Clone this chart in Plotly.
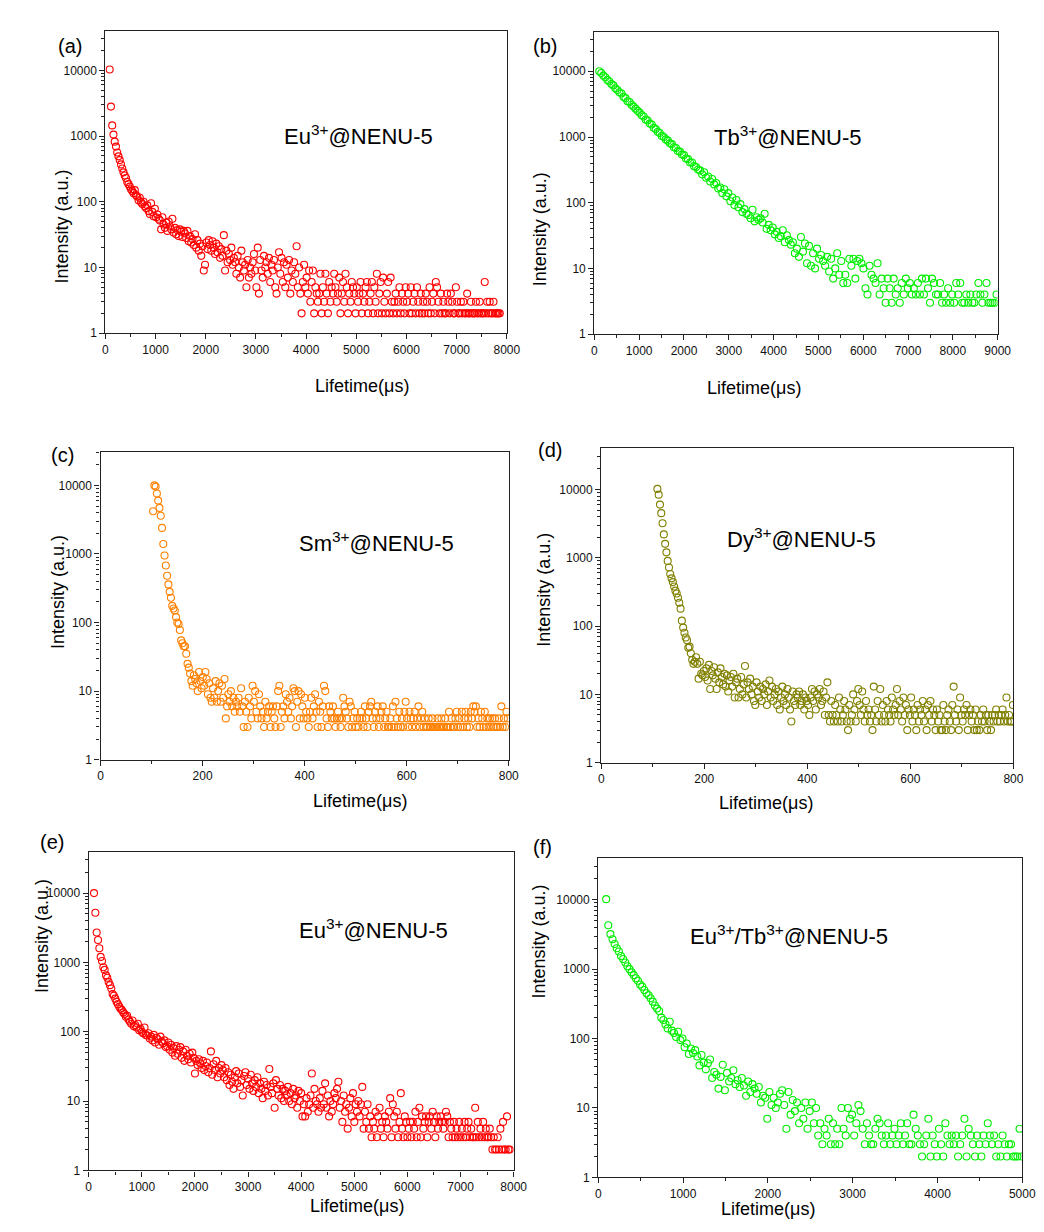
import plotly.graph_objects as go

W, H = 1044, 1232

# time channels: start and step (us) for every panel
a_x0, a_dx = 85, 25
b_x0, b_dx = 110, 45
c_x0, c_dx = 103, 2.5
d_x0, d_dx = 109, 2.5
e_x0, e_dx = 100, 25
f_x0, f_dx = 93, 25

# (a) Eu3+@NENU-5
a_y = [10300, 2800, 1450, 1050, 820, 690, 560, 490, 430, 370, 320, 280, 250, 230, 200, 185, 170, 155, 145, 135,
       150, 125, 120, 105, 115, 98, 92, 100, 85, 80, 88, 72, 65, 95, 70, 60, 78, 58, 64, 55,
       52, 38, 58, 45, 40, 48, 36, 50, 42, 38, 55, 34, 40, 32, 37, 30, 38, 35, 29, 36,
       33, 28, 36, 25, 30, 24, 27, 22, 32, 20, 26, 18, 23, 15, 21, 9, 11, 24, 19, 26,
       22, 18, 25, 20, 16, 23, 17, 21, 14, 19, 15, 31, 9, 18, 12, 16, 13, 20, 11, 14,
       12, 8, 15, 10, 7, 18, 12, 9, 11, 5, 13, 7, 10, 8, 12, 16, 9, 5, 20, 4,
       13, 9, 7, 15, 10, 12, 8, 14, 6, 11, 9, 13, 5, 4, 10, 17, 8, 14, 6, 12,
       5, 11, 7, 13, 4, 9, 6, 12, 8, 21, 5, 10, 4, 2, 6, 11, 5, 7, 4, 9,
       3, 6, 9, 2, 5, 4, 3, 4, 8, 2, 5, 3, 8, 4, 2, 6, 3, 5, 4, 8,
       5, 3, 4, 7, 2, 4, 6, 3, 8, 5, 2, 4, 3, 6, 5, 4, 2, 5, 3, 4,
       6, 2, 4, 3, 5, 6, 2, 3, 4, 6, 2, 5, 3, 8, 2, 4, 6, 2, 7, 3,
       2, 4, 6, 2, 7, 3, 2, 3, 4, 2, 3, 5, 2, 4, 3, 2, 5, 3, 4, 2,
       5, 2, 3, 4, 2, 5, 3, 2, 4, 2, 3, 2, 4, 3, 2, 5, 2, 3, 4, 2,
       6, 5, 3, 2, 4, 2, 3, 2, 2, 4, 3, 2, 4, 3, 2, 2, 5, 3, 2, 2,
       3, 2, 3, 2, 2, 4, 2, 2, 3, 2, 2, 2, 3, 2, 2, 3, 2, 2, 2, 6,
       2, 3, 2, 3, 2, 2, 3, 2, 2, 2, 2, 2]

# (b) Tb3+@NENU-5
b_y = [10000, 9400, 8600, 8100, 7400, 7000, 6400, 6100, 5500, 5200, 4800, 4600, 4100, 3900, 3500, 3400, 3100, 2900, 2700, 2500,
       2350, 2150, 2050, 1850, 1780, 1600, 1550, 1380, 1320, 1200, 1150, 1040, 1000, 920, 880, 800, 780, 700, 680, 610,
       600, 540, 530, 470, 460, 410, 410, 360, 350, 320, 310, 270, 290, 240, 250, 210, 230, 190, 200, 165,
       170, 140, 160, 125, 140, 105, 120, 92, 110, 85, 95, 72, 80, 68, 65, 58, 78, 52, 60, 55,
       58, 50, 68, 40, 46, 38, 42, 33, 36, 29, 31, 38, 25, 32, 27, 23, 25, 17, 20, 15,
       30, 18, 24, 12, 22, 11, 17, 10, 20, 14, 16, 13, 11, 15, 9, 14, 7, 10, 17, 8,
       13, 6, 8, 6, 14, 11, 14, 7, 13, 14, 12, 10, 5, 4, 11, 8, 7, 6, 12, 4,
       7, 5, 3, 7, 5, 3, 7, 4, 5, 3, 6, 4, 7, 5, 6, 4, 5, 4, 6, 4,
       7, 4, 7, 5, 3, 7, 6, 4, 4, 6, 3, 4, 3, 5, 3, 4, 3, 6, 4, 6,
       3, 3, 4, 3, 4, 3, 3, 4, 6, 4, 3, 4, 6, 3, 3, 3, 3, 4]

# (c) Sm3+@NENU-5
c_y = [4200, 10000, 9600, 7600, 6000, 4700, 3600, 2400, 1400, 950, 680, 480, 360, 280, 230, 175, 160, 150, 120, 100,
       95, 78, 55, 50, 45, 45, 35, 25, 22, 18, 14,
       12, 17, 15, 13, 10, 19, 14, 11, 16, 12, 19, 15, 9, 13, 8, 7, 11, 8, 14, 7,
       10, 13, 7, 12, 8, 15, 4, 6, 9, 7, 10, 6, 8, 5, 7, 6, 8, 5, 11, 6,
       3, 7, 5, 3, 8, 6, 4, 12, 7, 10, 5, 4, 9, 6, 4, 5, 3, 7, 4, 5,
       6, 3, 5, 6, 4, 3, 6, 10, 12, 3, 5, 6, 4, 9, 7, 5, 8, 4, 6, 11,
       10, 3, 7, 10, 4, 9, 6, 4, 8, 5, 4, 3, 5, 8, 4, 6, 9, 5, 3, 7,
       5, 3, 6, 12, 10, 4, 3, 6, 5, 4, 6, 4, 3, 4, 5, 4, 3, 4, 8, 6,
       5, 4, 3, 7, 6, 3, 4, 5, 3, 4, 3, 4, 5, 4, 3, 6, 4, 3, 5, 6,
       7, 4, 3, 5, 4, 6, 3, 4, 5, 6, 3, 4, 5, 3, 3, 4, 3, 6, 3, 7,
       4, 3, 5, 3, 4, 3, 5, 7, 4, 3, 5, 4, 3, 4, 5, 3, 4, 6, 3, 4,
       5, 3, 4, 3, 3, 4, 3, 3, 4, 3, 3, 3, 4, 3, 3, 4, 3, 3, 4, 3,
       3, 5, 3, 4, 3, 3, 4, 5, 3, 4, 3, 5, 3, 4, 5, 3, 4, 3, 5, 4,
       6, 5, 6, 3, 4, 3, 5, 4, 3, 5, 3, 4, 3, 4, 3, 4, 3, 4, 3, 3,
       4, 3, 6, 3, 4, 3, 5, 4]

# (d) Dy3+@NENU-5
d_y = [10200, 8400, 6000, 4500, 3200, 2200, 1600, 1200, 900, 720, 580, 500, 440, 380, 330, 300, 260, 220, 180, 120,
       95, 80, 68, 62, 48, 50, 40, 32, 28, 30, 35, 28, 17, 30, 20, 19, 22,
       18, 24, 16, 27, 12, 22, 19, 25, 17, 12, 21, 15, 24, 18, 14, 20, 13, 19, 11, 16,
       18, 13, 20, 9, 15, 17, 9, 12, 18, 10, 14, 26, 9, 15, 12, 17, 10, 13, 8, 7,
       15, 11, 9, 13, 8, 12, 10, 14, 7, 11, 16, 9, 13, 8, 10, 12, 7, 11, 6, 9,
       13, 8, 10, 7, 12, 9, 6, 4, 11, 8, 7, 10, 9, 11, 7, 8, 10, 6, 9, 8,
       7, 5, 9, 12, 8, 11, 6, 10, 9, 12, 7, 8, 11, 5, 9, 15, 5, 4, 8, 5,
       4, 7, 5, 4, 9, 6, 4, 5, 8, 6, 4, 3, 7, 4, 5, 10, 6, 4, 8, 12,
       7, 5, 11, 6, 4, 8, 5, 6, 4, 5, 3, 13, 6, 4, 8, 5, 12, 4, 7, 5,
       4, 8, 6, 5, 4, 9, 6, 5, 7, 12, 5, 8, 6, 4, 9, 5, 7, 3, 6, 5,
       9, 4, 6, 5, 3, 7, 4, 6, 5, 8, 4, 6, 3, 7, 5, 8, 4, 6, 5, 3,
       6, 4, 5, 3, 3, 7, 4, 3, 5, 6, 4, 3, 7, 13, 5, 4, 6, 3, 9, 5,
       4, 6, 5, 7, 3, 5, 6, 4, 5, 3, 6, 3, 4, 3, 5, 4, 6, 4, 5, 3,
       5, 4, 3, 5, 4, 5, 6, 4, 5, 4, 5, 6, 4, 5, 9, 4, 5, 4, 4, 7]

# (e) Eu3+@NENU-5
e_y = [10000, 5200, 2700, 2100, 1600, 1200, 1050, 850, 780, 650, 600, 520, 470, 420, 350, 330, 300, 270, 250, 230,
       215, 205, 190, 180, 165, 170, 150, 140, 130, 145, 120, 125, 115, 130, 105, 110, 100, 95, 115, 90,
       88, 95, 80, 85, 75, 90, 70, 82, 78, 65, 85, 72, 68, 75, 60, 62, 70, 55, 65, 50,
       58, 45, 62, 48, 55, 60, 42, 52, 38, 55, 45, 40, 48, 36, 50, 42, 25, 38, 33, 40,
       35, 30, 38, 28, 32, 36, 26, 30, 52, 24, 34, 28, 38, 22, 30, 25, 33, 28, 22, 30,
       20, 26, 17, 24, 19, 15, 22, 27, 18, 25, 16, 20, 12, 23, 26, 17, 21, 15, 24, 18,
       14, 20, 16, 22, 13, 18, 15, 11, 19, 14, 17, 12, 29, 16, 13, 18, 8, 20, 15, 12,
       17, 11, 15, 10, 14, 12, 16, 10, 13, 9, 15, 11, 12, 8, 14, 10, 13, 6, 9, 6,
       11, 7, 9, 12, 25, 8, 15, 10, 9, 7, 11, 8, 14, 9, 18, 8, 12, 6, 10, 7,
       9, 13, 11, 15, 19, 8, 10, 5, 12, 7, 9, 4, 8, 11, 6, 13, 5, 9, 7, 10,
       6, 9, 16, 4, 7, 5, 9, 4, 6, 3, 5, 4, 7, 3, 6, 8, 4, 5, 3, 6,
       5, 4, 7, 11, 3, 9, 6, 4, 7, 3, 5, 13, 4, 3, 6, 5, 3, 4, 5, 3,
       5, 4, 7, 3, 5, 8, 3, 6, 4, 5, 6, 3, 5, 6, 4, 7, 5, 3, 6, 4,
       5, 6, 5, 4, 5, 7, 6, 3, 5, 4, 3, 5, 3, 4, 3, 5, 3, 4, 3, 5,
       3, 4, 5, 3, 4, 3, 3, 8, 3, 5, 3, 4, 3, 5, 3, 4, 3, 3, 4, 3,
       2, 3, 2, 2, 3, 2, 4, 2, 5, 2, 2, 6, 2, 2]

# (f) Eu3+/Tb3+@NENU-5
f_y = [10200, 4300, 3200, 2700, 2300, 2000, 1800, 1550, 1400, 1250, 1100, 1000, 900, 820, 740, 680, 600, 560, 500, 450,
       420, 380, 340, 300, 270, 250, 200, 185, 160, 140, 175, 130, 120, 105, 125, 95, 100, 75, 85, 60,
       72, 62, 68, 55, 41, 58, 45, 36, 44, 50, 27, 33, 30, 19, 28, 42, 18, 32, 24, 27,
       35, 22, 25, 20, 27, 21, 15, 24, 17, 22, 19, 16, 20, 12, 15, 14, 7, 17, 11, 14,
       10, 12, 16, 18, 11, 5, 17, 8, 13, 9, 12, 6, 10, 7, 12, 5, 9, 12, 6, 10,
       4, 6, 3, 5, 4, 7, 3, 6, 3, 5, 3, 10, 5, 4, 10, 7, 8, 4, 6, 11,
       9, 5, 3, 6, 4, 3, 3, 5, 7, 6, 4, 3, 4, 6, 3, 4, 5, 3, 4, 6,
       3, 4, 6, 3, 3, 8, 5, 4, 3, 2, 3, 4, 7, 2, 4, 3, 2, 5, 3, 2,
       6, 4, 3, 4, 3, 4, 2, 3, 4, 7, 2, 5, 4, 3, 2, 4, 3, 2, 4, 3,
       6, 4, 3, 4, 2, 3, 2, 4, 3, 2, 3, 3, 2, 2, 2, 5, 2]

panels = [
    # label, text, y, x0, dx, colour, xmax, xdtick, xminor, ylogmax, box px (l, r, t, b)
    ("(a)", "Eu<sup>3+</sup>@NENU-5", a_y, a_x0, a_dx, "#ff0000", 8000, 1000, 500, 4.6, (96, 504, 23, 327)),
    ("(b)", "Tb<sup>3+</sup>@NENU-5", b_y, b_x0, b_dx, "#00ee00", 9000, 1000, 500, 4.6, (593, 1003, 24, 328)),
    ("(c)", "Sm<sup>3+</sup>@NENU-5", c_y, c_x0, c_dx, "#ff8000", 800, 200, 100, 4.48, (91, 506, 447, 756)),
    ("(d)", "Dy<sup>3+</sup>@NENU-5", d_y, d_x0, d_dx, "#808000", 800, 200, 100, 4.6, (600, 1019, 443, 759)),
    ("(e)", "Eu<sup>3+</sup>@NENU-5", e_y, e_x0, e_dx, "#ff0000", 8000, 1000, 500, 4.59, (79, 511, 849, 1169)),
    ("(f)", "Eu<sup>3+</sup>/Tb<sup>3+</sup>@NENU-5", f_y, f_x0, f_dx, "#00ee00", 5000, 1000, 500, 4.6, (597, 1028, 855, 1176)),
]

# text positions in page pixels: panel label, sample name, y title, x title
label_pos = [(46, 25), (543, 25), (39, 450), (548, 445), (27, 852), (540, 857)]
name_pos = [(353, 112), (866, 113), (372, 537), (881, 533), (368, 942), (894, 948)]
ytitle_pos = [(40, 160), (538, 163), (35, 587), (541, 585), (20, 993), (537, 998)]
xtitle_pos = [(307, 368), (805, 370), (305, 798), (817, 800), (302, 1217), (819, 1220)]

FONT = "Liberation Sans, Arial, sans-serif"


def px(x, y):
    return x / W, 1 - y / H


fig = go.Figure()
annotations = []

for k, (lab, name, ys, x0, dx, col, xmax, xdt, xmin, ytop, box) in enumerate(panels):
    n = "" if k == 0 else str(k + 1)
    l, r, t, b = box
    fig.add_trace(go.Scatter(
        y=ys, x0=x0, dx=dx, mode="markers", xaxis="x" + n, yaxis="y" + n,
        marker=dict(symbol="circle-open", size=7, color=col, line=dict(width=1.1, color=col)),
        showlegend=False, hoverinfo="skip"))

    axis_common = dict(showline=True, linecolor="#222222", linewidth=1.3, mirror=True,
                       ticks="outside", ticklen=5, tickwidth=1, tickcolor="#222222",
                       showgrid=False, zeroline=False,
                       tickfont=dict(family=FONT, size=12, color="#111111"))
    fig.update_layout(**{
        "xaxis" + n: dict(axis_common, domain=[l / W, r / W], anchor="y" + n, range=[0, xmax],
                          dtick=xdt, tick0=0,
                          minor=dict(ticks="outside", ticklen=3, dtick=xmin, tickcolor="#222222")),
        "yaxis" + n: dict(axis_common, domain=[1 - b / H, 1 - t / H], anchor="x" + n, type="log",
                          range=[0, ytop], tickvals=[1, 10, 100, 1000, 10000],
                          ticktext=["1", "10", "100", "1000", "10000"],
                          minor=dict(ticks="outside", ticklen=3, tickcolor="#222222",
                                     tickvals=[m * 10 ** e for e in range(5) for m in range(2, 10)])),
    })

    ax, ay = px(*label_pos[k])
    annotations.append(dict(text=lab, x=ax, y=ay, xref="paper", yref="paper", showarrow=False,
                            font=dict(family=FONT, size=20, color="black")))
    ax, ay = px(*name_pos[k])
    annotations.append(dict(text=name, x=ax, y=ay, xref="paper", yref="paper", showarrow=False,
                            font=dict(family=FONT, size=22, color="black")))
    ax, ay = px(*ytitle_pos[k])
    annotations.append(dict(text="Intensity (a.u.)", x=ax, y=ay, xref="paper", yref="paper",
                            showarrow=False, textangle=-90,
                            font=dict(family=FONT, size=18, color="black")))
    ax, ay = px(*xtitle_pos[k])
    annotations.append(dict(text="Lifetime(μs)", x=ax, y=ay, xref="paper", yref="paper",
                            showarrow=False, font=dict(family=FONT, size=18, color="black")))

fig.update_layout(width=W, height=H, margin=dict(l=0, r=0, t=0, b=0),
                  paper_bgcolor="white", plot_bgcolor="white", annotations=annotations)

fig.write_html("out.html")
